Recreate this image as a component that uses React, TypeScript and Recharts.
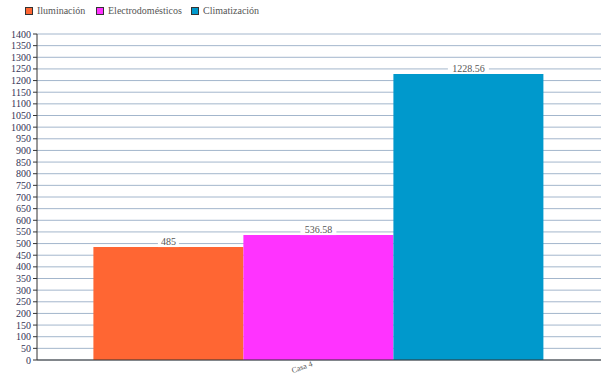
import React from 'react';
import { BarChart, Bar, XAxis, YAxis, CartesianGrid, LabelList } from 'recharts';

const categories = ['Casa 4'];
const iluminacion = [485];
const electrodomesticos = [536.58];
const climatizacion = [1228.56];
const yTicks = Array.from({ length: 29 }, (_, i) => i * 50);

const series = [
  { key: 'iluminacion', name: 'Iluminación', color: '#ff6633' },
  { key: 'electrodomesticos', name: 'Electrodomésticos', color: '#ff33ff' },
  { key: 'climatizacion', name: 'Climatización', color: '#0099cc' },
];

const data = categories.map((name, i) => ({
  name,
  iluminacion: iluminacion[i],
  electrodomesticos: electrodomesticos[i],
  climatizacion: climatizacion[i],
}));

const FONT = "'Liberation Serif', 'Times New Roman', serif";

const ValueLabel = (props: any) => {
  const { x, y, width, value } = props;
  const cx = x + width / 2;
  const text = String(value);
  const w = text.length * 5 + 6;
  return (
    <g>
      <rect x={cx - w / 2} y={y - 10} width={w} height={10} fill="#fff" />
      <text x={cx} y={y - 2} textAnchor="middle" fontSize={10} fontFamily={FONT} fill="#555">
        {text}
      </text>
    </g>
  );
};

const XTick = (props: any) => {
  const { x, y, payload } = props;
  const tx = x - 6;
  const ty = y - 2;
  return (
    <text
      x={tx}
      y={ty}
      textAnchor="end"
      fontSize={8}
      fontFamily={FONT}
      fill="#555"
      transform={`rotate(-20 ${tx} ${ty})`}
    >
      {payload.value}
    </text>
  );
};

const App = () => {
  return (
    <div style={{ position: 'absolute', left: 0, top: 0, width: 606, height: 374, background: '#fff' }}>
      <div style={{ position: 'absolute', left: 0, top: 5, fontFamily: FONT, fontSize: 10, color: '#555' }}>
        {series.map((s, i) => (
          <div key={s.key} style={{ position: 'absolute', left: [25, 96, 191][i], display: 'flex', alignItems: 'center', whiteSpace: 'nowrap' }}>
            <span style={{ width: 6, height: 6, background: s.color, border: '1px solid #333', display: 'inline-block', marginRight: 4 }} />
            <span>{s.name}</span>
          </div>
        ))}
      </div>
      <BarChart
        width={606}
        height={374}
        data={data}
        margin={{ top: 34, right: 5, left: 0, bottom: 0 }}
        barCategoryGap="10%"
        barGap={0}
      >
        <CartesianGrid vertical={false} stroke="#a3b6cc" strokeWidth={1} />
        <XAxis
          dataKey="name"
          height={14}
          tick={<XTick />}
          tickLine={false}
          axisLine={{ stroke: '#333' }}
        />
        <XAxis xAxisId="top" orientation="top" dataKey="name" height={0} tick={false} tickLine={false} axisLine={{ stroke: '#999' }} />
        <YAxis
          width={37}
          domain={[0, 1400]}
          ticks={yTicks}
          interval={0}
          tick={{ fontSize: 10, fontFamily: FONT, fill: '#333355' }}
          tickSize={4}
          tickLine={{ stroke: '#333' }}
          axisLine={{ stroke: '#333' }}
        />
        <YAxis yAxisId="right" orientation="right" width={0} tick={false} tickLine={false} axisLine={{ stroke: '#bbb' }} />
        {series.map((s) => (
          <Bar key={s.key} dataKey={s.key} name={s.name} fill={s.color} isAnimationActive={false}>
            <LabelList dataKey={s.key} content={<ValueLabel />} />
          </Bar>
        ))}
      </BarChart>
    </div>
  );
};

export default App;
